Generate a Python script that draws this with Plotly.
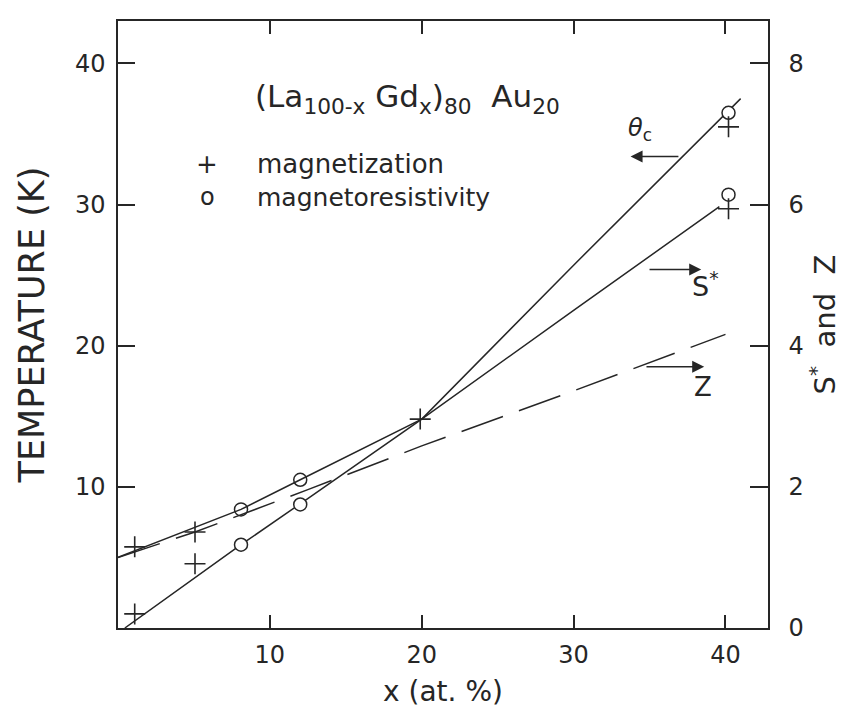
import plotly.graph_objects as go

# ---- data (left axis: temperature K; right axis: S* and Z) ----
theta_x = [0.45, 8.1, 12.0, 20.0, 30.0, 41.0]
theta_T = [0.0, 5.9, 8.8, 14.8, 25.7, 37.5]

s_x = [0.0, 8.1, 12.0, 20.0, 30.0, 39.6]
s_val = [1.0, 1.68, 2.1, 2.96, 4.5, 5.97]

z_x = [0.0, 5.07, 12.5, 20.0, 30.0, 40.0]
z_val = [1.0, 1.36, 1.96, 2.58, 3.36, 4.16]

mag_x = [1.1, 1.1, 5.07, 5.07, 19.9, 40.2, 40.2]
mag_T = [1.0, 5.75, 6.8, 4.55, 14.8, 35.5, 29.7]

mr_x = [8.1, 8.1, 12.0, 12.0, 40.2, 40.2]
mr_T = [8.4, 5.9, 10.5, 8.75, 36.5, 30.7]

x_ticks = [10, 20, 30, 40]
yl_ticks = [10, 20, 30, 40]
yr_ticks = [0, 2, 4, 6, 8]

INK = "#262626"
FONT = "DejaVu Sans"

fig = go.Figure()
fig.add_trace(go.Scatter(x=theta_x, y=theta_T, mode="lines", line=dict(color=INK, width=1.5),
                         showlegend=False, yaxis="y"))
fig.add_trace(go.Scatter(x=s_x, y=s_val, mode="lines", line=dict(color=INK, width=1.5),
                         showlegend=False, yaxis="y2"))
fig.add_trace(go.Scatter(x=z_x, y=z_val, mode="lines", line=dict(color=INK, width=1.5, dash="44px,17px"),
                         showlegend=False, yaxis="y2"))
fig.add_trace(go.Scatter(x=mr_x, y=mr_T, mode="markers", name="magnetoresistivity", showlegend=False,
                         marker=dict(symbol="circle", size=13, color="white",
                                     line=dict(color=INK, width=1.5)), yaxis="y"))
fig.add_trace(go.Scatter(x=mag_x, y=mag_T, mode="markers", name="magnetization", showlegend=False,
                         marker=dict(symbol="cross-thin", size=15,
                                     line=dict(color=INK, width=1.6)), yaxis="y"))

ann = []
def arrow(x_head, x_tail, y):
    ann.append(dict(x=x_head, y=y, ax=x_tail, ay=y, xref="x", yref="y", axref="x", ayref="y",
                    showarrow=True, arrowhead=2, arrowsize=1.6, arrowwidth=1.5, arrowcolor=INK, text=""))
arrow(33.75, 37.0, 33.4)
arrow(38.4, 34.9, 25.4)
arrow(38.6, 34.7, 18.5)

def txt(x, y, s, size, anchor="center"):
    ann.append(dict(x=x, y=y, xref="x", yref="y", text=s, showarrow=False, xanchor=anchor,
                    font=dict(size=size, color=INK, family=FONT)))

txt(34.4, 35.3, "<i>θ</i><sub>c</sub>", 24)
txt(38.7, 24.3, "S<sup>*</sup>", 27)
txt(38.5, 17.1, "Z", 26)
txt(8.9, 37.5, "(La<sub>100-x</sub>&nbsp;Gd<sub>x</sub>)<sub>80</sub>&nbsp;&nbsp;Au<sub>20</sub>", 31, "left")
txt(5.86, 32.9, "+", 26)
txt(9.0, 32.9, "magnetization", 26, "left")
txt(5.86, 30.5, "o", 24)
txt(9.0, 30.5, "magnetoresistivity", 25, "left")
txt(-1.5, -1.3, "0", 24)

fig.update_layout(
    width=848, height=709,
    margin=dict(l=110, r=88, t=13, b=89),
    plot_bgcolor="white", paper_bgcolor="white",
    font=dict(family=FONT, color=INK, size=24),
    annotations=ann,
    showlegend=False,
    xaxis=dict(range=[0, 42.8], tickvals=x_ticks, ticks="inside", ticklen=13, tickwidth=1.5,
               tickcolor=INK, showline=True, linecolor=INK, linewidth=1.5, mirror="ticks",
               showgrid=False, zeroline=False, ticklabelstandoff=4,
               title=dict(text="x (at. %)", font=dict(size=28), standoff=14)),
    yaxis=dict(range=[0, 43], tickvals=yl_ticks, ticks="inside", ticklen=17, tickwidth=1.5,
               tickcolor=INK, showline=True, linecolor=INK, linewidth=1.5, mirror=True,
               showgrid=False, zeroline=False, ticklabelstandoff=6,
               title=dict(text="TEMPERATURE (K)", font=dict(size=35), standoff=20)),
    yaxis2=dict(range=[0, 8.6], tickvals=yr_ticks, overlaying="y", side="right", ticks="inside",
                ticklen=18, tickwidth=1.5, tickcolor=INK, showline=True, linecolor=INK, linewidth=1.5,
                showgrid=False, zeroline=False, ticklabelstandoff=14,
                title=dict(text="S<sup>*</sup>&nbsp;&nbsp;and&nbsp;&nbsp;Z", font=dict(size=29), standoff=10)),
)

fig.write_html("out.html")
